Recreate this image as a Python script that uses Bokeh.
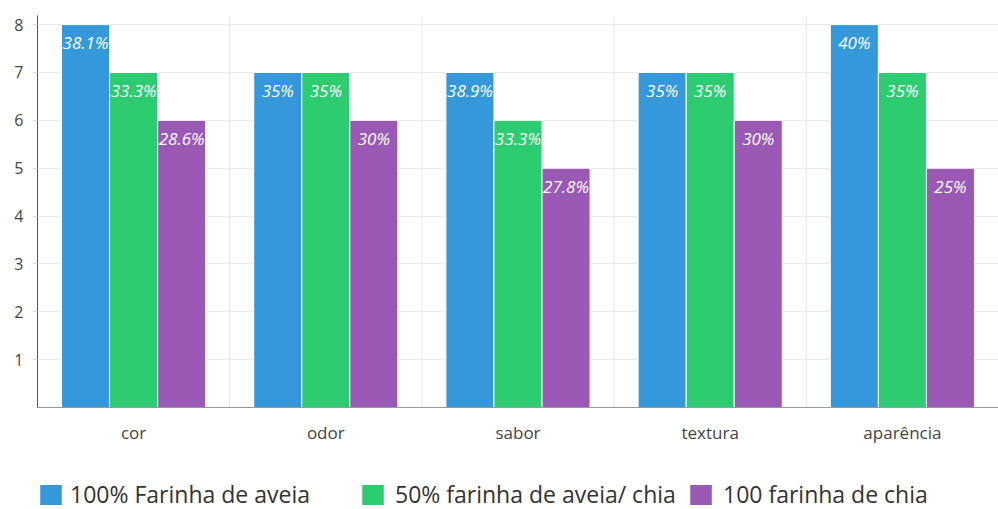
from bokeh.plotting import figure
from bokeh.layouts import column
from bokeh.models import ColumnDataSource, FactorRange, Legend, LegendItem, FixedTicker, Range1d
from bokeh.transform import dodge
from bokeh.core.properties import value
from bokeh.embed import file_html
from bokeh.resources import INLINE

# Sensory attributes and scores per formulation
categories = ["cor", "odor", "sabor", "textura", "aparência"]
aveia = [8, 7, 7, 7, 8]
mista = [7, 7, 6, 7, 7]
chia = [6, 6, 5, 6, 5]
aveia_pct = ["38.1%", "35%", "38.9%", "35%", "40%"]
mista_pct = ["33.3%", "35%", "33.3%", "35%", "35%"]
chia_pct = ["28.6%", "30%", "27.8%", "30%", "25%"]
series_names = ["100% Farinha de aveia", "50% farinha de aveia/ chia", "100 farinha de chia"]
y_ticks = [1, 2, 3, 4, 5, 6, 7, 8]

FONT = "Open Sans"
colors = ["#3498db", "#2ecc71", "#9b59b6"]

src = ColumnDataSource(dict(
    cat=categories, aveia=aveia, mista=mista, chia=chia,
    aveia_pct=aveia_pct, mista_pct=mista_pct, chia_pct=chia_pct,
))

p = figure(
    x_range=FactorRange(*categories, range_padding=0),
    y_range=(0, 8.19),
    width=998, height=450,
    output_backend="svg", toolbar_location=None,
    min_border_left=37, min_border_right=0, min_border_top=15, min_border_bottom=43,
)
p.outline_line_color = None
p.background_fill_color = "white"
p.border_fill_color = "white"

# grids
p.xgrid.grid_line_color = None
p.ygrid.grid_line_color = "#e9e9e9"
p.ygrid.ticker = FixedTicker(ticks=y_ticks)

# category separators
sep = ColumnDataSource(dict(cat=categories[:-1]))
p.segment(x0=dodge("cat", 0.5, range=p.x_range), y0=-0.12,
          x1=dodge("cat", 0.5, range=p.x_range), y1=8.19,
          source=sep, line_color="#e6e6e6", line_width=1)

for key, off, col in zip(["aveia", "mista", "chia"], [-0.25, 0.0, 0.25], colors):
    p.vbar(x=dodge("cat", off, range=p.x_range), top=key, width=0.25, bottom=0,
           source=src, fill_color=col, line_color="white", line_width=1)
    p.text(x=dodge("cat", off, range=p.x_range), y=key, text=key + "_pct", source=src,
           text_color="white", text_font=value(FONT), text_font_style="italic",
           text_font_size="17px", text_align="center", text_baseline="middle",
           y_offset=18)

# axes
p.yaxis.ticker = FixedTicker(ticks=y_ticks)
p.yaxis.axis_line_color = "#555555"
p.yaxis.major_tick_line_color = "#dddddd"
p.yaxis.major_tick_out = 5
p.yaxis.major_tick_in = 0
p.yaxis.minor_tick_line_color = None
p.yaxis.major_label_standoff = 9
p.yaxis.major_label_text_font = FONT
p.yaxis.major_label_text_font_size = "16px"
p.yaxis.major_label_text_color = "#444444"

p.xaxis.axis_line_color = "#999999"
p.xaxis.major_tick_line_color = None
p.xaxis.major_label_standoff = 7
p.xaxis.major_label_text_font = FONT
p.xaxis.major_label_text_font_size = "17px"
p.xaxis.major_label_text_color = "#444444"

# legend strip under the chart (its frame lines up with the chart frame)
leg = figure(
    width=998, height=59, x_range=Range1d(0, 1), y_range=Range1d(0, 1),
    output_backend="svg", toolbar_location=None,
    x_axis_location=None, y_axis_location=None,
    min_border_left=37, min_border_right=0, min_border_top=0, min_border_bottom=0,
)
leg.outline_line_color = None
leg.grid.visible = False

# swatch renderers sit outside the strip's ranges; only their legend entries show
swatch = ColumnDataSource(dict(x=[-10], top=[-10]))
for n, col, xpos, gap in zip(series_names, colors, [0, 322, 650], [6, 9, 9]):
    r = leg.vbar(x="x", top="top", width=1, source=swatch, fill_color=col, line_color=None)
    lg = Legend(
        items=[LegendItem(label=n, renderers=[r])],
        orientation="horizontal", location=(xpos, -1),
        label_text_font=FONT, label_text_font_size="23px", label_text_color="#333333",
        glyph_width=27, glyph_height=25, label_standoff=gap,
        padding=0, margin=0, border_line_color=None, background_fill_alpha=0,
    )
    leg.add_layout(lg, "center")

open("out.html", "w").write(file_html(column(p, leg, spacing=0), INLINE))
